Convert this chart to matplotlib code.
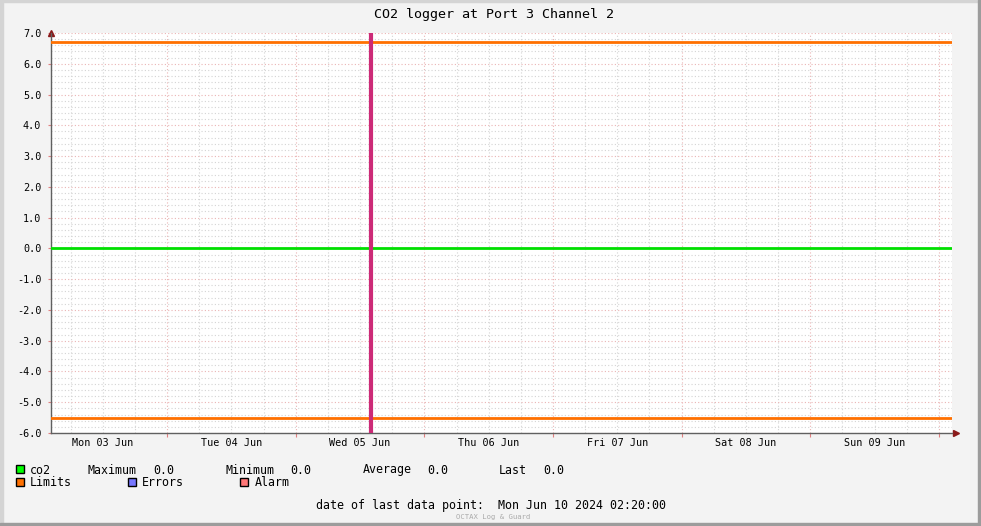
import datetime as dt
import matplotlib
matplotlib.use("Agg")
import matplotlib.pyplot as plt
import matplotlib.dates as mdates
import matplotlib.transforms as mtransforms
from matplotlib.patches import Rectangle

plt.rcParams['font.family'] = ['DejaVu Sans Mono']

# data
t_start = dt.datetime(2024, 6, 3, 2, 20)
t_end = dt.datetime(2024, 6, 10, 2, 20)
co2_times = [t_start, t_end]
co2_values = [0.0, 0.0]
limit_high = 6.7
limit_low = -5.5
event_time = dt.datetime(2024, 6, 5, 14, 5)
day_labels = ["Mon 03 Jun", "Tue 04 Jun", "Wed 05 Jun", "Thu 06 Jun",
              "Fri 07 Jun", "Sat 08 Jun", "Sun 09 Jun"]
label_days = [dt.datetime(2024, 6, d, 12, 0) for d in range(3, 10)]
stats = [("Maximum", "0.0"), ("Minimum", "0.0"), ("Average", "0.0"), ("Last", "0.0")]

W, H = 981, 526
fig = plt.figure(figsize=(W / 100, H / 100), dpi=100, facecolor='#f3f3f3')

# outer frame
fig.patches.append(Rectangle((0, 0), 3 / W, 1, transform=fig.transFigure, color='#d4d4d4', zorder=0))
fig.patches.append(Rectangle((0, 1 - 2 / H), 1, 2 / H, transform=fig.transFigure, color='#d4d4d4', zorder=0))
fig.patches.append(Rectangle((1 - 3 / W, 0), 3 / W, 1, transform=fig.transFigure, color='#9c9c9c', zorder=0))
fig.patches.append(Rectangle((0, 0), 1, 3 / H, transform=fig.transFigure, color='#9c9c9c', zorder=0))

x0, x1, y0, y1 = 51, 952, 33, 433
ax = fig.add_axes([x0 / W, 1 - y1 / H, (x1 - x0) / W, (y1 - y0) / H])
ax.set_facecolor('white')

xmin = mdates.date2num(t_start)
xmax = mdates.date2num(dt.datetime(2024, 6, 10, 2, 27))
ax.set_xlim(xmin, xmax)
ax.set_ylim(-6, 7)

# grid
ax.xaxis.set_major_locator(mdates.HourLocator(byhour=[0]))
ax.xaxis.set_minor_locator(mdates.HourLocator(byhour=[6, 12, 18]))
ax.xaxis.set_major_formatter(plt.NullFormatter())
ax.yaxis.set_major_locator(plt.MultipleLocator(1.0))
ax.yaxis.set_minor_locator(plt.MultipleLocator(0.2))
ax.yaxis.set_major_formatter(plt.FuncFormatter(lambda v, p: f"{v:.1f}"))
ax.grid(which='major', color='#eab4b4', linestyle=(0, (1, 2)), linewidth=0.8)
ax.grid(which='minor', color='#d4d4d4', linestyle=(0, (1, 2)), linewidth=0.8)
ax.set_axisbelow(True)

ax.tick_params(axis='x', which='major', length=3, color='#e08080', direction='out')
ax.tick_params(axis='x', which='minor', length=0)
ax.tick_params(axis='y', which='major', length=2, color='#e08080', labelsize=7.3, pad=5)
ax.tick_params(axis='y', which='minor', length=0)

for s in ['top', 'right']:
    ax.spines[s].set_visible(False)
for s in ['left', 'bottom']:
    ax.spines[s].set_color('#606060')
    ax.spines[s].set_linewidth(1)

# day labels
trans = mtransforms.blended_transform_factory(ax.transData, ax.transAxes)
for d, lab in zip(label_days, day_labels):
    ax.text(mdates.date2num(d), -0.012, lab, transform=trans, ha='center', va='top', fontsize=7.3)

# series
ax.plot(co2_times, co2_values, color='#00e000', linewidth=2, zorder=3)
ax.plot(co2_times, [limit_high, limit_high], color='#ff7000', linewidth=2, zorder=3)
ax.plot(co2_times, [limit_low, limit_low], color='#ff7000', linewidth=2, zorder=3)
ax.axvline(event_time, color='#cc2a77', linewidth=3, zorder=4)

# axis arrows
ax.plot([0], [1.0], marker='^', color='#8b1a1a', markersize=5, transform=ax.transAxes, clip_on=False)
ax.plot([1.004], [0], marker='>', color='#8b1a1a', markersize=5, transform=ax.transAxes, clip_on=False)

# title
fig.text(494 / W, 1 - 18 / H, "CO2 logger at Port 3 Channel 2", ha='center', va='baseline', fontsize=9.6)

# legend
def legend_box(x, y, color):
    fig.patches.append(Rectangle((x / W, 1 - (y + 4) / H), 8 / W, 8 / H, transform=fig.transFigure,
                                 facecolor=color, edgecolor='black', linewidth=1))

def ftext(x, y, s, **kw):
    fig.text(x / W, 1 - y / H, s, va='baseline', fontsize=8.4, **kw)

legend_box(16, 469, '#00ff00')
ftext(30, 473.5, "co2")
stat_x = [88, 225, 363, 499]
val_x = [153, 290, 427, 543]
for (name, val), sx, vx in zip(stats, stat_x, val_x):
    ftext(sx, 473.5, name)
    ftext(vx, 473.5, val)

legend_box(16, 482, '#ff7000')
ftext(30, 486, "Limits")
legend_box(128, 482, '#7777ff')
ftext(142, 486, "Errors")
legend_box(240, 482, '#ff7777')
ftext(255, 486, "Alarm")

fig.text(491 / W, 1 - 509.5 / H, "date of last data point:  Mon Jun 10 2024 02:20:00",
         ha='center', va='baseline', fontsize=8.4)
fig.text(493 / W, 1 - 519 / H, "OCTAX Log & Guard", ha='center', va='baseline', fontsize=5.2, color='#aaaaaa')

fig.savefig("out.png", dpi=100, facecolor=fig.get_facecolor())
